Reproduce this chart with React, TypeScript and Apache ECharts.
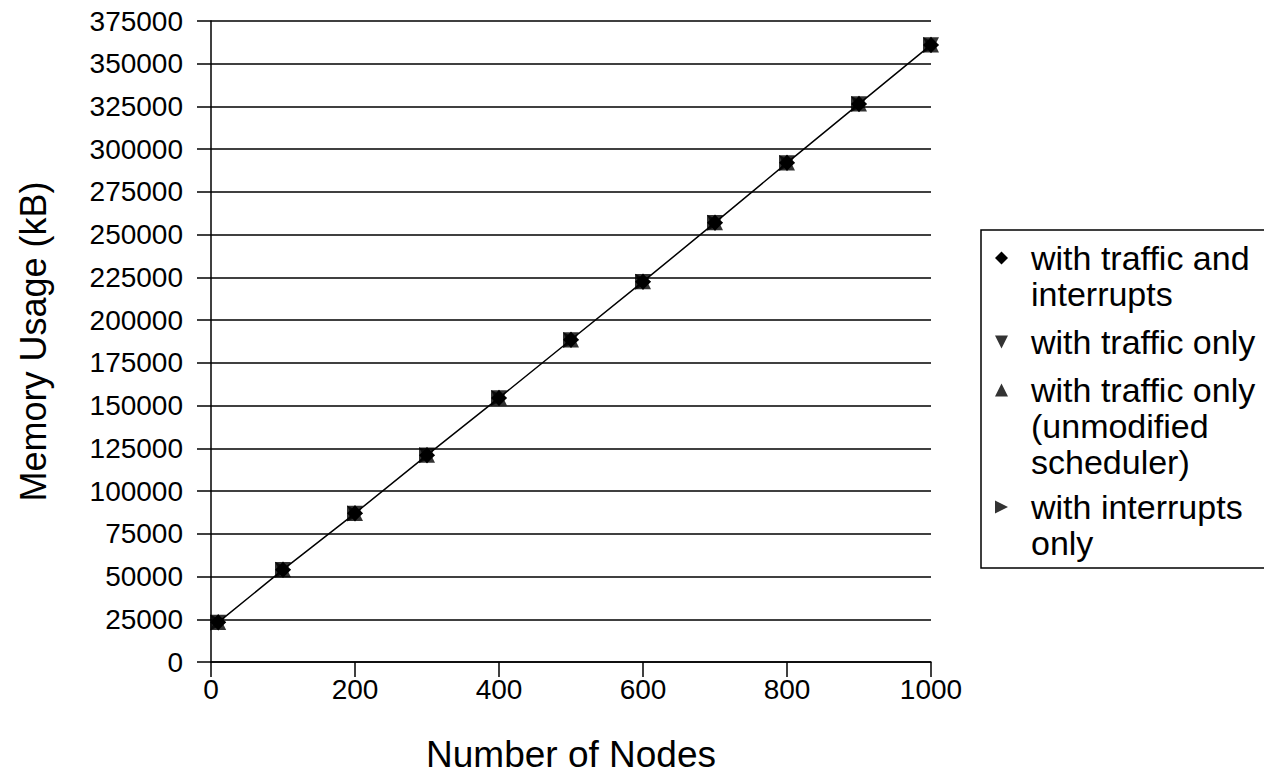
import React, { useEffect, useRef } from "react";
import * as echarts from "echarts";

const nodes = [10, 100, 200, 300, 400, 500, 600, 700, 800, 900, 1000];
const trafficAndInterrupts = [23200, 54000, 87000, 121000, 154500, 188500, 222500, 257000, 292000, 326500, 361000];
const trafficOnly = [23000, 53800, 86800, 120800, 154300, 188300, 222300, 256800, 291800, 326300, 360800];
const trafficOnlyUnmodified = [23400, 54200, 87200, 121200, 154700, 188700, 222700, 257200, 292200, 326700, 361200];
const interruptsOnly = [23100, 53900, 86900, 120900, 154400, 188400, 222400, 256900, 291900, 326400, 360900];

const seriesNames = [
  "with traffic and interrupts",
  "with traffic only",
  "with traffic only (unmodified scheduler)",
  "with interrupts only",
];
const legendLabels = [
  "with traffic and\ninterrupts",
  "with traffic only",
  "with traffic only\n(unmodified\nscheduler)",
  "with interrupts\nonly",
];
const legendLines = [2, 1, 3, 2];
const legendIconCenters = [258, 342, 390, 507];

const ICON_DOWN = "path://M0,0L10,0L5,10Z";
const ICON_UP = "path://M5,0L10,10L0,10Z";
const ICON_RIGHT = "path://M0,0L10,5L0,10Z";
const legendIcons = ["diamond", ICON_DOWN, ICON_UP, ICON_RIGHT];

const FONT = "'Liberation Sans', Arial, Helvetica, sans-serif";

export default function App() {
  const ref = useRef<HTMLDivElement>(null);
  useEffect(() => {
    if (!ref.current) return;
    const chart = echarts.init(ref.current, undefined, { renderer: "svg" });
    const pts = (vals: number[]) => nodes.map((x, i) => [x, vals[i]]);
    const LH = 36;
    const legends = seriesNames.map((name, i) => {
      const n = legendLines[i];
      return {
        show: true,
        data: [{ name, icon: legendIcons[i] }],
        orient: "vertical",
        left: 995,
        top: legendIconCenters[i] - ((2 * n - 1) * LH) / 2,
        padding: 0,
        itemWidth: 13,
        itemHeight: 13,
        selectedMode: false,
        formatter: () => "\n".repeat(n - 1) + legendLabels[i],
        textStyle: {
          fontFamily: FONT,
          fontSize: 34,
          color: "#000",
          lineHeight: LH,
          padding: [0, 0, 0, 18],
        },
        itemStyle: { color: "#000" },
      };
    });
    const common = {
      symbolSize: 16,
      itemStyle: { color: "#000" },
      z: 3,
    };
    chart.setOption({
      animation: false,
      backgroundColor: "#fff",
      textStyle: { fontFamily: FONT },
      grid: { left: 211, right: 333, top: 21, bottom: 111, containLabel: false },
      legend: legends,
      graphic: [
        {
          type: "rect",
          shape: { x: 981, y: 230, width: 320, height: 338 },
          style: { fill: "none", stroke: "#000", lineWidth: 1.5 },
          z: 1,
        },
      ],
      xAxis: {
        type: "value",
        min: 0,
        max: 1000,
        interval: 200,
        name: "Number of Nodes",
        nameLocation: "middle",
        nameGap: 74,
        nameTextStyle: { fontFamily: FONT, fontSize: 37, color: "#000" },
        axisLine: { show: true, lineStyle: { color: "#000", width: 1.5 } },
        axisTick: { show: true, length: 15, lineStyle: { color: "#000", width: 1.5 } },
        axisLabel: {
          fontFamily: FONT,
          fontSize: 28,
          color: "#000",
          margin: 13,
          formatter: (v: number) => String(v),
        },
        splitLine: { show: false },
      },
      yAxis: {
        type: "value",
        min: 0,
        max: 375000,
        interval: 25000,
        name: "Memory Usage (kB)",
        nameLocation: "middle",
        nameRotate: 90,
        nameGap: 160,
        nameTextStyle: { fontFamily: FONT, fontSize: 36, color: "#000" },
        axisLine: { show: true, lineStyle: { color: "#000", width: 1.5 } },
        axisTick: { show: true, length: 14, lineStyle: { color: "#000", width: 1.5 } },
        axisLabel: {
          fontFamily: FONT,
          fontSize: 28,
          color: "#000",
          margin: 28,
          formatter: (v: number) => String(v),
        },
        splitLine: { show: true, lineStyle: { color: "#000", width: 1.5 } },
      },
      series: [
        {
          ...common,
          name: seriesNames[0],
          type: "line",
          data: pts(trafficAndInterrupts),
          symbol: "diamond",
          showAllSymbol: true,
          lineStyle: { color: "#000", width: 1.5 },
        },
        {
          ...common,
          name: seriesNames[1],
          type: "scatter",
          data: pts(trafficOnly),
          symbol: ICON_DOWN,
        },
        {
          ...common,
          name: seriesNames[2],
          type: "scatter",
          data: pts(trafficOnlyUnmodified),
          symbol: ICON_UP,
        },
        {
          ...common,
          name: seriesNames[3],
          type: "scatter",
          data: pts(interruptsOnly),
          symbol: ICON_RIGHT,
        },
      ],
    });
    return () => chart.dispose();
  }, []);
  return <div ref={ref} style={{ width: 1264, height: 778, position: "absolute", left: 0, top: 0 }} />;
}
